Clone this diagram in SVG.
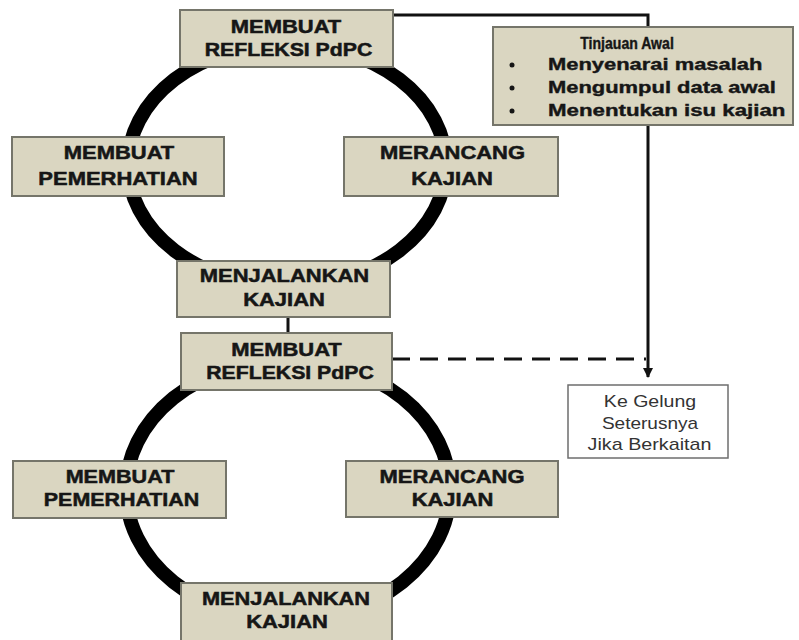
<svg xmlns="http://www.w3.org/2000/svg" width="799" height="640" viewBox="0 0 799 640">
<defs>
<style>
.ring{fill:none;stroke:#000;stroke-width:14}
.box rect{fill:#dad6c1;stroke:#75756a;stroke-width:2}
.box text{font-family:"Liberation Sans",Arial,sans-serif;font-weight:bold;font-size:18px;fill:#161616;stroke:#161616;stroke-width:0.5;text-anchor:middle}
.tj text{font-family:"Liberation Sans",Arial,sans-serif;font-weight:bold;font-size:17px;fill:#161616;stroke:#161616;stroke-width:0.4}
.kg rect{fill:#fff;stroke:#6e6e6e;stroke-width:1.5}
.kg text{font-family:"Liberation Sans",Arial,sans-serif;font-size:17px;fill:#333;text-anchor:middle}
.conn{fill:none;stroke:#111;stroke-width:3}
</style>
<marker id="arr" viewBox="0 0 10 10" refX="9" refY="5" markerWidth="3.4" markerHeight="3.4" orient="auto" markerUnits="strokeWidth">
<path d="M0,0 L10,5 L0,10 z" fill="#111"/>
</marker>
</defs>
<rect width="799" height="640" fill="#fff"/>
<g id="rings">
<ellipse class="ring" cx="287" cy="165" rx="159" ry="121"/>
<ellipse class="ring" cx="288" cy="490" rx="162" ry="130"/>
</g>
<g id="connectors">
<path class="conn" d="M392,15 H648 V377" marker-end="url(#arr)"/>
<path class="conn" d="M392,359 H646" stroke-dasharray="18,10"/>
<path class="conn" d="M288,317 V333"/>
</g>
<g id="refleksi1" class="box">
<rect x="180" y="10" width="213" height="57"/>
<text transform="translate(286,33) scale(1.22,1)">MEMBUAT</text>
<text transform="translate(288.5,56) scale(1.18,1)">REFLEKSI PdPC</text>
</g>
<g id="pemerhatian1" class="box">
<rect x="12" y="137" width="212" height="59"/>
<text transform="translate(119,159) scale(1.22,1)">MEMBUAT</text>
<text transform="translate(118,185) scale(1.22,1)">PEMERHATIAN</text>
</g>
<g id="merancang1" class="box">
<rect x="344" y="137" width="214" height="59"/>
<text transform="translate(452.5,159) scale(1.22,1)">MERANCANG</text>
<text transform="translate(452,185) scale(1.22,1)">KAJIAN</text>
</g>
<g id="menjalankan1" class="box">
<rect x="177" y="261" width="213" height="56"/>
<text transform="translate(284.5,282) scale(1.22,1)">MENJALANKAN</text>
<text transform="translate(284,306) scale(1.22,1)">KAJIAN</text>
</g>
<g id="tinjauan" class="tj">
<rect x="493" y="27" width="300" height="98" fill="#dad6c1" stroke="#75756a" stroke-width="2"/>
<text transform="translate(627,49) scale(0.88,1)" text-anchor="middle" style="font-size:16px">Tinjauan Awal</text>
<circle cx="512" cy="65" r="2.5" fill="#161616"/>
<circle cx="512" cy="88" r="2.5" fill="#161616"/>
<circle cx="512" cy="111" r="2.5" fill="#161616"/>
<text transform="translate(548,70) scale(1.29,1)">Menyenarai masalah</text>
<text transform="translate(548,93) scale(1.29,1)">Mengumpul data awal</text>
<text transform="translate(548,116) scale(1.31,1)">Menentukan isu kajian</text>
</g>
<g id="refleksi2" class="box">
<rect x="181" y="333" width="211" height="57"/>
<text transform="translate(286.5,356) scale(1.22,1)">MEMBUAT</text>
<text transform="translate(290,379) scale(1.18,1)">REFLEKSI PdPC</text>
</g>
<g id="kegelung" class="kg">
<rect x="568" y="385" width="160" height="73"/>
<text transform="translate(650,407) scale(1.15,1)">Ke Gelung</text>
<text transform="translate(650,429) scale(1.12,1)">Seterusnya</text>
<text transform="translate(649.5,450) scale(1.16,1)">Jika Berkaitan</text>
</g>
<g id="pemerhatian2" class="box">
<rect x="13" y="461" width="213" height="57"/>
<text transform="translate(120,483) scale(1.2,1)">MEMBUAT</text>
<text transform="translate(121.5,506) scale(1.19,1)">PEMERHATIAN</text>
</g>
<g id="merancang2" class="box">
<rect x="346" y="461" width="212" height="56"/>
<text transform="translate(452,483) scale(1.22,1)">MERANCANG</text>
<text transform="translate(452.5,506) scale(1.22,1)">KAJIAN</text>
</g>
<g id="menjalankan2" class="box">
<rect x="181" y="583" width="211" height="60"/>
<text transform="translate(286,605) scale(1.21,1)">MENJALANKAN</text>
<text transform="translate(287,628) scale(1.22,1)">KAJIAN</text>
</g>
</svg>
